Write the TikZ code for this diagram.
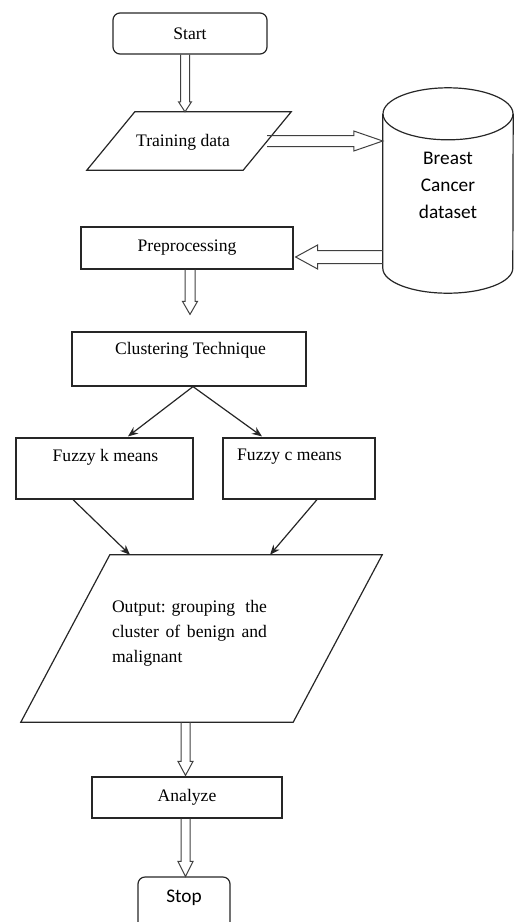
\documentclass[tikz,border=0pt]{standalone}
\usepackage{fontspec}
\setmainfont{Liberation Serif}
\newfontfamily\calib{Carlito}
\usetikzlibrary{calc,arrows.meta}

\tikzset{
  box/.style={draw=black!85, line width=1.2pt, inner sep=0pt},
  rbox/.style={box, rounded corners=7pt},
  txt/.style={inner sep=0pt, font=\fontsize{17.6pt}{21pt}\selectfont},
  stxt/.style={inner sep=0pt, font=\calib\fontsize{19.3pt}{27pt}\selectfont, align=center},
  blk/.style={draw=black!75, line width=1pt, line join=miter},
  conn/.style={draw=black!85, line width=1.2pt, -{Stealth[length=10pt,width=8pt]}},
}

% hollow block arrows: from, to(tip), shaft half width, head half width, head length
\newcommand\arrdown[5]{\draw[blk] let \p1=(#1), \p2=(#2) in
  (\x2-#3pt,\y1) -- (\x2-#3pt,\y2+#5pt) -- (\x2-#4pt,\y2+#5pt) -- (\x2,\y2)
  -- (\x2+#4pt,\y2+#5pt) -- (\x2+#3pt,\y2+#5pt) -- (\x2+#3pt,\y1);}
\newcommand\arrright[5]{\draw[blk] let \p1=(#1), \p2=(#2) in
  (\x1,\y2+#3pt) -- (\x2-#5pt,\y2+#3pt) -- (\x2-#5pt,\y2+#4pt) -- (\x2,\y2)
  -- (\x2-#5pt,\y2-#4pt) -- (\x2-#5pt,\y2-#3pt) -- (\x1,\y2-#3pt);}
\newcommand\arrleft[5]{\draw[blk] let \p1=(#1), \p2=(#2) in
  (\x1,\y2+#3pt) -- (\x2+#5pt,\y2+#3pt) -- (\x2+#5pt,\y2+#4pt) -- (\x2,\y2)
  -- (\x2+#5pt,\y2-#4pt) -- (\x2+#5pt,\y2-#3pt) -- (\x1,\y2-#3pt);}

\begin{document}
\begin{tikzpicture}[x=1pt,y=-1pt]
\useasboundingbox (0,0) rectangle (514,922);
\clip (0,0) rectangle (514,922);

% Start
\node[rbox, txt, minimum width=154, minimum height=41] (start) at (190,33.5) {Start};

% Training data (parallelogram)
\node[inner sep=0pt, minimum width=156, minimum height=58] (train) at (189,141) {};
\draw[box] ($(train.north west)+(24,0)$) -- ($(train.north east)+(24,0)$)
  -- ($(train.south east)+(-24,0)$) -- ($(train.south west)+(-24,0)$) -- cycle;
\node[txt] (traintxt) at (183,142) {Training data};

% Cylinder
\node[inner sep=0pt, minimum width=130, minimum height=154] (cyl) at (448,191) {};
\draw[box] (cyl.north west) -- (cyl.south west)
  arc[start angle=180, end angle=360, x radius=65pt, y radius=25pt] -- (cyl.north east);
\draw[box] (cyl.north) ellipse[x radius=65pt, y radius=26pt];
\node[stxt] (cyltxt) at (448,185.5) {Breast\\Cancer\\dataset};

% Preprocessing
\node[box, txt, minimum width=212, minimum height=42] (prep) at (187,248) {Preprocessing};

% Clustering
\node[box, minimum width=234, minimum height=54] (clus) at (189,359) {};
\node[txt] (clustxt) at (190.5,350) {Clustering Technique};

% Fuzzy boxes
\node[box, minimum width=177, minimum height=61] (fk) at (104.5,468.5) {};
\node[txt] (fktxt) at (105.5,457) {Fuzzy k means};
\node[box, minimum width=152, minimum height=61] (fc) at (299,468.5) {};
\node[txt] (fctxt) at (289.5,457) {Fuzzy c means};

% Output parallelogram
\node[inner sep=0pt, minimum width=272, minimum height=167] (out) at (201.5,638.5) {};
\draw[box] ($(out.north west)+(44.5,0)$) -- ($(out.north east)+(44.5,0)$)
  -- ($(out.south east)+(-44.5,0)$) -- ($(out.south west)+(-44.5,0)$) -- cycle;
\node[txt, font=\fontsize{17.6pt}{25pt}\selectfont, align=left] (outtxt) at (189.5,633)
  {\makebox[155pt][l]{Output: grouping\hfill the}\\\makebox[155pt][s]{cluster of benign and}\\malignant};

% Analyze
\node[box, txt, minimum width=190, minimum height=41] (ana) at (187,797.5) {Analyze};

% Stop
\node[rbox, minimum width=92, minimum height=64] (stop) at (184,909) {};
\node[stxt] (stoptxt) at (184,898) {Stop};

% Block arrows
\coordinate (tin) at ($(train.north)+(-4,0)$);
\arrdown{start.south -| tin}{tin}{4.5}{6.5}{10}
\arrright{train.east}{cyl.west |- train.east}{5.5}{10}{29}
\coordinate (pin) at ($(prep.east)+(2,9)$);
\arrleft{cyl.west |- pin}{pin}{6.5}{12}{22}
\coordinate (cin) at ($(clus.north)+(1,-17)$);
\arrdown{prep.south -| cin}{cin}{5}{7.5}{13}
\coordinate (ain) at ($(ana.north)+(-1.5,-1)$);
\arrdown{out.south -| ain}{ain}{4.5}{7.5}{14}
\coordinate (sin) at ($(stop.north)+(1.5,0)$);
\arrdown{ana.south -| sin}{sin}{4.5}{7.5}{15}

% Plain connectors
\draw[conn] ($(clus.south)+(4,0)$) -- ($(fk.north)+(23.5,-1)$);
\draw[conn] ($(clus.south)+(4,0)$) -- ($(fc.north)+(-37,-1)$);
\draw[conn] ($(fk.south)+(-31.5,0)$) -- ($(out.north)+(-71.5,0)$);
\draw[conn] ($(fc.south)+(18,0)$) -- ($(out.north)+(68.5,0)$);
\end{tikzpicture}
\end{document}
